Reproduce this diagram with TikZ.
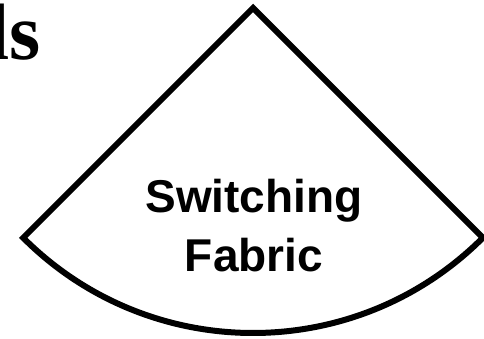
\documentclass[tikz,border=0pt]{standalone}
\usepackage{fontspec}
\setmainfont{Liberation Serif}
\setsansfont{Liberation Sans}
\usepackage{tikz}
\usetikzlibrary{positioning}
\tikzset{
  fanshape/.style={draw=black, line width=6pt, line join=miter, fill=white},
  fablabel/.style={font=\sffamily\bfseries\fontsize{46}{59}\selectfont,
    align=center, text=black, inner sep=0pt},
  cutlabel/.style={font=\rmfamily\bfseries\fontsize{80}{90}\selectfont,
    text=black, inner sep=0pt}
}
\begin{document}
\begin{tikzpicture}[x=1pt, y=1pt]
  \useasboundingbox (0,0) rectangle (484,339);
  % --- Heading, cut off at the left edge ---
  \node[cutlabel, anchor=base west] (heading) at (-13, 279) {ls};

  % --- Switching fabric sector ---
  \coordinate (apex) at (253, 331);
  \draw[fanshape] (apex) -- ++(225:325)
    arc[start angle=225, end angle=315, radius=325] -- cycle;
  \node[fablabel, anchor=base] (fabric) at (254, 67) {Switching\\Fabric};
\end{tikzpicture}
\end{document}
